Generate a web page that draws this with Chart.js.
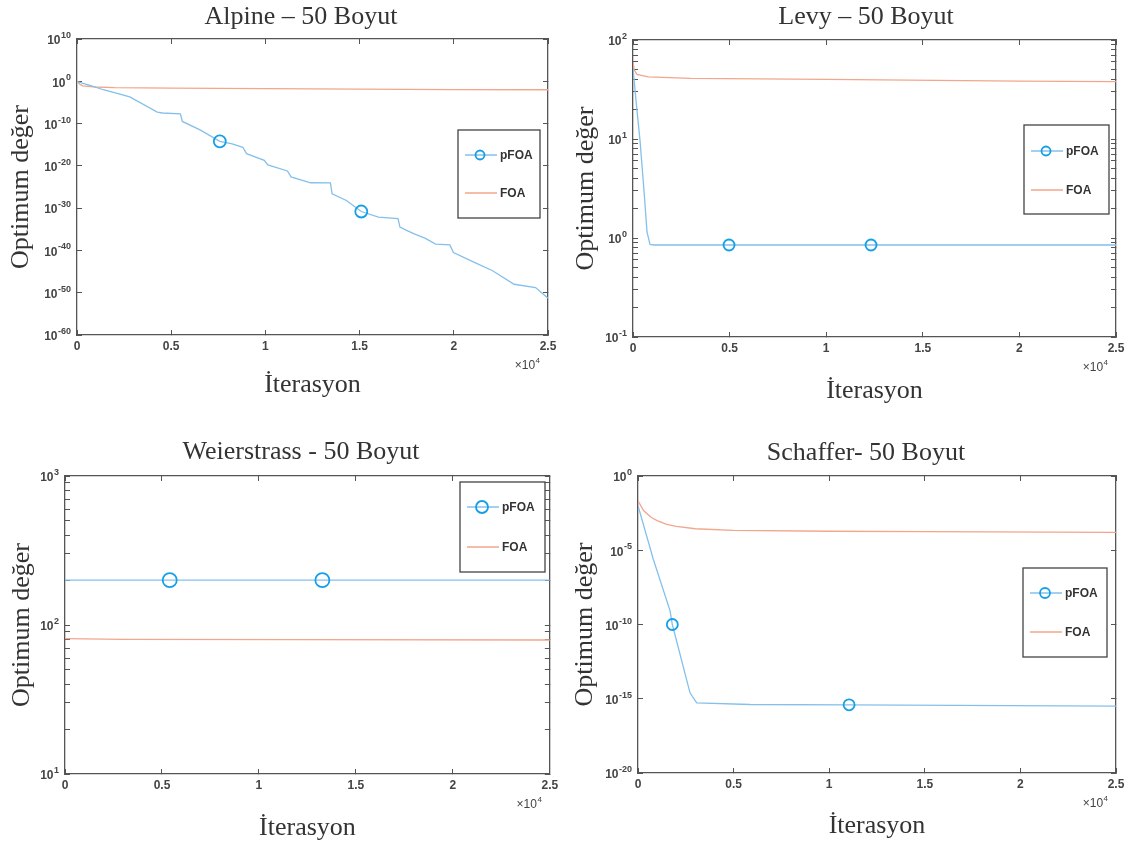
<!DOCTYPE html>
<html lang="tr">
<head>
<meta charset="utf-8">
<title>pFOA - FOA yakınsama grafikleri</title>
<script src="https://cdn.jsdelivr.net/npm/chart.js@4.4.0/dist/chart.umd.min.js"></script>
<style>
	html, body { margin: 0; padding: 0; background: #fff; overflow: hidden; }
	canvas { position: absolute; }
</style>
</head>
<body>
<canvas id="alpine" width="568" height="410" style="left:0px;top:0px"></canvas>
<canvas id="levy" width="569" height="410" style="left:568px;top:0px"></canvas>
<canvas id="weierstrass" width="568" height="419" style="left:0px;top:430px"></canvas>
<canvas id="schaffer" width="569" height="419" style="left:568px;top:430px"></canvas>
<script>
// Ortak eksen değerleri
const xTicks = [0, 5000, 10000, 15000, 20000, 25000];
const xTickLabels = ["0", "0.5", "1", "1.5", "2", "2.5"];
const seriesNames = ["pFOA", "FOA"];

// Alpine – 50 Boyut
const alpineTitle = "Alpine – 50 Boyut";
const alpinePfoaIter = [0, 600, 1400, 2800, 4260, 4545, 5490, 5590, 6530, 7580, 8240, 8800, 9000, 9940, 10130, 11170, 11360, 12400, 13450, 13540, 14300, 15090, 16000, 17040, 17140, 17520, 17900, 18470, 19030, 19790, 19980, 21120, 22060, 23200, 24340, 25000];
const alpinePfoa = [0.8, 0.15, 1.0e-2, 2.0e-4, 5.0e-8, 3.2e-8, 2.0e-8, 3.2e-10, 3.2e-12, 6.3e-15, 1.6e-15, 2.5e-16, 7.9e-18, 2.0e-19, 1.6e-20, 6.3e-22, 2.5e-23, 1.0e-24, 9.5e-25, 2.5e-27, 6.3e-29, 1.6e-31, 7.9e-33, 3.2e-33, 3.2e-35, 5.0e-36, 7.9e-37, 7.9e-38, 3.2e-39, 2.0e-39, 3.2e-41, 1.3e-43, 1.6e-45, 1.0e-48, 1.6e-49, 5.0e-52];
const alpineFoaIter = [0, 150, 300, 1000, 2000, 5000, 10000, 15000, 20000, 25000];
const alpineFoa = [1.0, 0.2, 0.08, 0.045, 0.032, 0.025, 0.018, 0.014, 0.011, 0.01];
const alpineMarks = [7580, 15090];
const alpineExp = [10, 0, -10, -20, -30, -40, -50, -60];

// Levy – 50 Boyut
const levyTitle = "Levy – 50 Boyut";
const levyPfoaIter = [0, 150, 360, 570, 725, 880, 1100, 4970, 12320, 25000];
const levyPfoa = [52, 25, 9.8, 3.0, 1.15, 0.86, 0.85, 0.85, 0.85, 0.85];
const levyFoaIter = [0, 60, 200, 800, 3000, 10000, 20000, 25000];
const levyFoa = [60, 50, 45, 42.5, 41, 40, 38.5, 38];
const levyMarks = [4970, 12320];
const levyExp = [2, 1, 0, -1];

// Weierstrass - 50 Boyut
const weierTitle = "Weierstrass - 50 Boyut";
const weierPfoaIter = [0, 5400, 13270, 25000];
const weierPfoa = [200, 200, 200, 200];
const weierFoaIter = [0, 3000, 12000, 25000];
const weierFoa = [81, 80, 79.8, 79.3];
const weierMarks = [5400, 13270];
const weierExp = [3, 2, 1];

// Schaffer- 50 Boyut
const schafferTitle = "Schaffer- 50 Boyut";
const schafferPfoaIter = [0, 800, 1674, 1795, 2720, 3070, 5860, 11040, 25000];
const schafferPfoa = [1.0e-2, 2.5e-6, 8.7e-10, 1.0e-10, 2.5e-15, 5.2e-16, 4.1e-16, 3.9e-16, 3.2e-16];
const schafferFoaIter = [0, 300, 700, 1000, 1500, 2000, 3000, 5000, 10000, 15000, 25000];
const schafferFoa = [2.1e-2, 4.5e-3, 1.6e-3, 1.0e-3, 5.6e-4, 4.0e-4, 2.8e-4, 2.2e-4, 1.9e-4, 1.8e-4, 1.6e-4];
const schafferMarks = [1795, 11040];
const schafferExp = [0, -5, -10, -15, -20];

// Renkler
const renkPfoa = "#84c0eb";
const renkMarker = "#159fe6";
const renkFoa = "#f2a68c";
const renkEksen = "#555555";
const renkYazi = "#333333";

function noktalar(iter, deger) {
	return iter.map((x, i) => ({ x: x, y: deger[i] }));
}

function logTicks(exps, minor) {
	const lo = Math.min(...exps);
	const hi = Math.max(...exps);
	if (!minor) return exps.map((e) => ({ value: Math.pow(10, e), major: true }));
	const out = [];
	for (let e = lo; e < hi; e++) {
		for (let k = 1; k <= 9; k++) out.push({ value: k * Math.pow(10, e), major: k === 1 });
	}
	out.push({ value: Math.pow(10, hi), major: true });
	return out;
}

// Üs yazılı etiketler, x10^4 ve lejant
const eklerPlugin = {
	id: "ekler",
	afterDraw(chart, args, o) {
		const ctx = chart.ctx;
		const y = chart.scales.y;
		const area = chart.chartArea;
		ctx.save();
		ctx.fillStyle = "#444";
		// y etiketleri
		o.exps.forEach((e) => {
			const py = y.getPixelForValue(Math.pow(10, e));
			const us = String(e);
			ctx.font = 'bold 9px "Liberation Sans"';
			ctx.textAlign = "right";
			ctx.textBaseline = "alphabetic";
			const xr = area.left - 6;
			ctx.fillText(us, xr, py - 1);
			const w = ctx.measureText(us).width;
			ctx.font = 'bold 12px "Liberation Sans"';
			ctx.textBaseline = "middle";
			ctx.fillText("10", xr - w - 0.5, py + 2);
		});
		// x10^4
		ctx.font = '8px "Liberation Sans"';
		ctx.textAlign = "right";
		ctx.textBaseline = "alphabetic";
		const xr = area.right - 8;
		const by = area.bottom + 34;
		ctx.fillText("4", xr, by - 6);
		const w4 = ctx.measureText("4").width;
		ctx.font = '12px "Liberation Sans"';
		ctx.fillText("\u00d710", xr - w4 - 0.5, by);
		// lejant
		const L = o.legend;
		ctx.fillStyle = "#fff";
		ctx.fillRect(L.x, L.y, L.w, L.h);
		ctx.strokeStyle = "#444";
		ctx.lineWidth = 1.3;
		ctx.strokeRect(L.x, L.y, L.w, L.h);
		const renkler = [renkPfoa, renkFoa];
		seriesNames.forEach((ad, i) => {
			const ry = L.rows[i];
			ctx.strokeStyle = renkler[i];
			ctx.lineWidth = 1.5;
			ctx.beginPath();
			ctx.moveTo(L.x + 7, ry);
			ctx.lineTo(L.x + 39, ry);
			ctx.stroke();
			if (i === 0) {
				ctx.strokeStyle = renkMarker;
				ctx.lineWidth = 1.8;
				ctx.beginPath();
				ctx.arc(L.x + 22, ry, L.r, 0, Math.PI * 2);
				ctx.stroke();
			}
			ctx.fillStyle = renkYazi;
			ctx.font = 'bold 12px "Liberation Sans"';
			ctx.textAlign = "left";
			ctx.textBaseline = "middle";
			ctx.fillText(ad, L.x + 42, ry + 1);
		});
		ctx.restore();
	},
};

function grafikKur(id, d, p) {
	const canvas = document.getElementById(id);
	const W = canvas.width;
	const H = canvas.height;
	const pl = 2 * p.titleX - p.R;
	const pr = W - p.R;
	const minor = !!d.minor;
	const yMin = Math.pow(10, Math.min(...d.exps));
	const yMax = Math.pow(10, Math.max(...d.exps));
	const yaziBoy = 26;
	const yarim = (yaziBoy * 1.2) / 2;

	const eksenGrid = {
		drawOnChartArea: false,
		drawTicks: true,
		tickLength: -5,
		tickWidth: 1,
		tickColor: renkEksen,
	};
	const eksenBorder = { display: true, color: renkEksen, width: 1.3 };

	const logEksen = (pos) => ({
		type: "logarithmic",
		position: pos,
		min: yMin,
		max: yMax,
		afterBuildTicks: (s) => { s.ticks = logTicks(d.exps, minor); },
		ticks: { display: false, autoSkip: false, callback: () => "" },
		grid: eksenGrid,
		border: eksenBorder,
	});

	const yEksen = logEksen("left");
	yEksen.afterFit = (s) => { s.width = p.L - pl; };
	yEksen.title = {
		display: true,
		text: "Optimum değer",
		color: renkYazi,
		font: { family: "Liberation Serif", size: yaziBoy, lineHeight: 1.2 },
		padding: { top: p.yTitleX - pl - yarim, bottom: 0 },
	};
	const y2Eksen = logEksen("right");
	y2Eksen.afterFit = (s) => { s.width = 0; };

	const xEksen = (pos) => ({
		type: "linear",
		position: pos,
		min: 0,
		max: 25000,
		afterBuildTicks: (s) => { s.ticks = xTicks.map((v) => ({ value: v })); },
		ticks: {
			display: pos === "bottom",
			autoSkip: false,
			maxRotation: 0,
			padding: 9.8,
			color: "#444",
			font: { family: "Liberation Sans", size: 12, weight: "bold", lineHeight: 1.2 },
			callback: (v) => { const i = xTicks.indexOf(v); return i >= 0 ? xTickLabels[i] : ""; },
		},
		grid: eksenGrid,
		border: eksenBorder,
	});
	const xAlt = xEksen("bottom");
	xAlt.afterFit = (s) => { s.height = H - p.B; };
	xAlt.title = {
		display: true,
		text: "İterasyon",
		color: renkYazi,
		font: { family: "Liberation Serif", size: yaziBoy, lineHeight: 1.2 },
		padding: { top: 0, bottom: H - yarim - p.xTitleY },
	};
	const xUst = xEksen("top");
	xUst.afterFit = (s) => { s.height = 0; };

	return new Chart(canvas, {
		type: "line",
		data: {
			datasets: [
				{
					label: seriesNames[0],
					data: noktalar(d.pIter, d.pVals),
					borderColor: renkPfoa,
					borderWidth: 1.3,
					tension: 0,
					pointStyle: "circle",
					pointRadius: (c) => (d.marks.includes(d.pIter[c.dataIndex]) ? p.r : 0),
					pointHoverRadius: 0,
					pointBorderColor: renkMarker,
					pointBackgroundColor: "rgba(0,0,0,0)",
					pointBorderWidth: 1.8,
					xAxisID: "x",
					yAxisID: "y",
				},
				{
					label: seriesNames[1],
					data: noktalar(d.fIter, d.fVals),
					borderColor: renkFoa,
					borderWidth: 1.3,
					tension: 0,
					pointRadius: 0,
					pointHoverRadius: 0,
					xAxisID: "x",
					yAxisID: "y",
				},
			],
		},
		options: {
			responsive: false,
			animation: false,
			devicePixelRatio: 1,
			layout: { padding: { left: pl, right: pr, top: 0, bottom: 0 } },
			scales: { x: xAlt, x2: xUst, y: yEksen, y2: y2Eksen },
			plugins: {
				legend: { display: false },
				tooltip: { enabled: false },
				title: {
					display: true,
					text: d.title,
					color: renkYazi,
					font: { family: "Liberation Serif", size: yaziBoy, weight: "normal", lineHeight: 1.2 },
					padding: { top: p.titleY - yarim, bottom: p.T - p.titleY - yarim },
				},
				ekler: { exps: d.exps, legend: p.legend },
			},
		},
		plugins: [eklerPlugin],
	});
}

grafikKur(
	"alpine",
	{ title: alpineTitle, pIter: alpinePfoaIter, pVals: alpinePfoa, fIter: alpineFoaIter, fVals: alpineFoa, marks: alpineMarks, exps: alpineExp },
	{ L: 77, T: 39, R: 548, B: 335, titleX: 301, titleY: 17, yTitleX: 21, xTitleY: 385, r: 6,
		legend: { x: 458, y: 130, w: 82, h: 88, rows: [155, 193], r: 4.5 } }
);
grafikKur(
	"levy",
	{ title: levyTitle, pIter: levyPfoaIter, pVals: levyPfoa, fIter: levyFoaIter, fVals: levyFoa, marks: levyMarks, exps: levyExp, minor: true },
	{ L: 65, T: 40, R: 548, B: 337, titleX: 298, titleY: 17, yTitleX: 18, xTitleY: 391, r: 5.5,
		legend: { x: 456, y: 125, w: 85, h: 89, rows: [151, 190], r: 4.5 } }
);
grafikKur(
	"weierstrass",
	{ title: weierTitle, pIter: weierPfoaIter, pVals: weierPfoa, fIter: weierFoaIter, fVals: weierFoa, marks: weierMarks, exps: weierExp, minor: true },
	{ L: 65, T: 46, R: 550, B: 344, titleX: 301, titleY: 22, yTitleX: 22, xTitleY: 398, r: 7,
		legend: { x: 460, y: 52, w: 85, h: 90, rows: [77, 117], r: 6 } }
);
grafikKur(
	"schaffer",
	{ title: schafferTitle, pIter: schafferPfoaIter, pVals: schafferPfoa, fIter: schafferFoaIter, fVals: schafferFoa, marks: schafferMarks, exps: schafferExp },
	{ L: 70, T: 46, R: 548, B: 343, titleX: 298, titleY: 23, yTitleX: 17, xTitleY: 396, r: 5.5,
		legend: { x: 455, y: 138, w: 84, h: 89, rows: [163, 202], r: 5 } }
);
</script>
</body>
</html>
